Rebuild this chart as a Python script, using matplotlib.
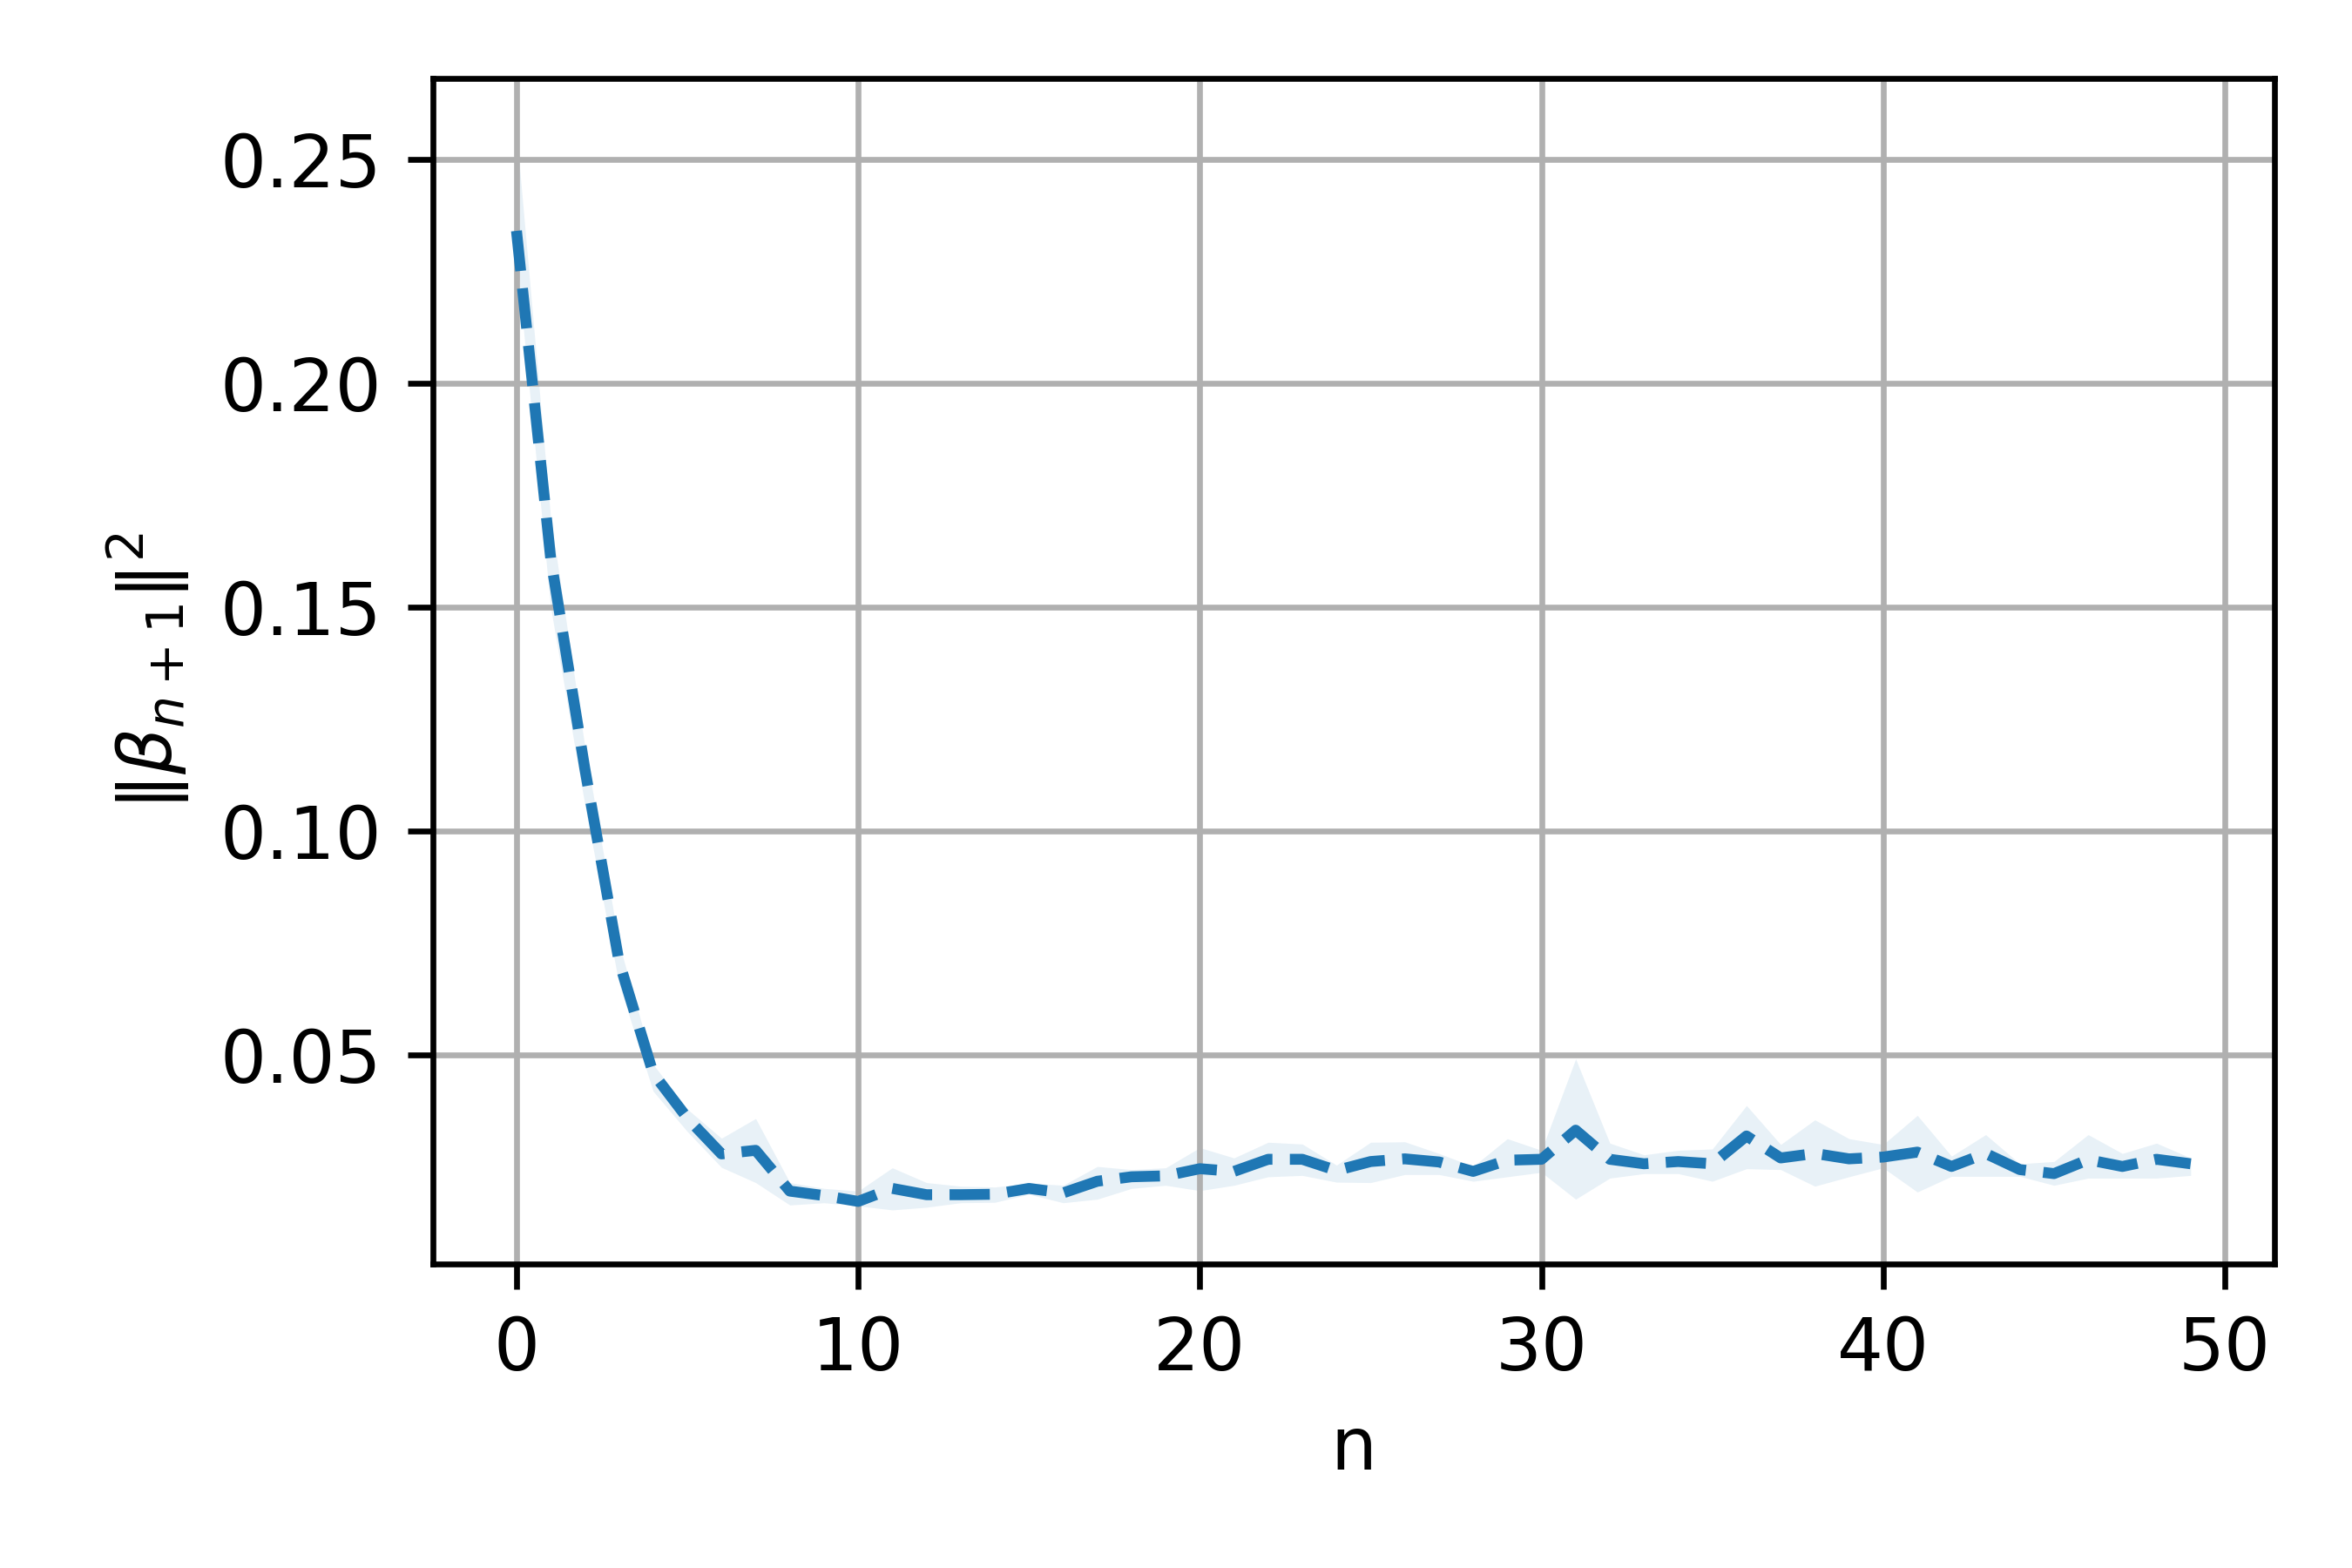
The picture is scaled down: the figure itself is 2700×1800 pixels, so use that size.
import numpy as np
import matplotlib
matplotlib.use("Agg")
import matplotlib.pyplot as plt

# mean of ||beta_{n+1}||^2 per iteration, with lower / upper band
n_vals = list(range(50))
mean_vals = [0.234, 0.161, 0.114, 0.071, 0.046, 0.036, 0.028, 0.0288, 0.0197, 0.0187,
             0.0174, 0.0203, 0.0189, 0.0189, 0.0190, 0.0203, 0.0193, 0.0219, 0.0229, 0.0231,
             0.0247, 0.0241, 0.0268, 0.0268, 0.0243, 0.0263, 0.0269, 0.0262, 0.0241, 0.0266,
             0.0268, 0.0333, 0.0268, 0.0258, 0.0263, 0.0258, 0.0320, 0.0271, 0.0281, 0.0269,
             0.0273, 0.0284, 0.0252, 0.0281, 0.0245, 0.0236, 0.0267, 0.0252, 0.0268, 0.0258]
upper_vals = [0.256, 0.170, 0.119, 0.075, 0.048, 0.038, 0.0315, 0.0359, 0.0216, 0.0203,
              0.0197, 0.0249, 0.0216, 0.0208, 0.0206, 0.0215, 0.0210, 0.0252, 0.0245, 0.0249,
              0.0294, 0.0271, 0.0306, 0.0302, 0.0255, 0.0306, 0.0307, 0.0281, 0.0252, 0.0314,
              0.0288, 0.0492, 0.0304, 0.0278, 0.0288, 0.0291, 0.0388, 0.0301, 0.0356, 0.0314,
              0.0301, 0.0366, 0.0275, 0.0323, 0.0258, 0.0263, 0.0323, 0.0281, 0.0304, 0.0271]
lower_vals = [0.228, 0.150, 0.106, 0.066, 0.042, 0.033, 0.025, 0.0216, 0.0166, 0.0171,
              0.0164, 0.0155, 0.0161, 0.0171, 0.0172, 0.0190, 0.0171, 0.0179, 0.0203, 0.0210,
              0.0198, 0.0210, 0.0229, 0.0232, 0.0217, 0.0216, 0.0234, 0.0234, 0.0219, 0.0229,
              0.0239, 0.0179, 0.0226, 0.0236, 0.0236, 0.0219, 0.0247, 0.0245, 0.0208, 0.0229,
              0.0249, 0.0195, 0.0230, 0.0230, 0.0230, 0.0210, 0.0226, 0.0226, 0.0226, 0.0232]

fig, ax = plt.subplots(figsize=(4.5, 3), dpi=600)
ax.fill_between(n_vals, lower_vals, upper_vals, color='C0', alpha=0.1, linewidth=0)
ax.plot(n_vals, mean_vals, '--', color='C0', linewidth=1.5)
ax.grid(True)
ax.set_xlabel("n")
ax.set_ylabel(r'$\|\beta_{n+1}\|^2$')
plt.subplots_adjust(left=0.184, right=0.967, top=0.950, bottom=0.194)
plt.savefig("out.png", dpi=600)
